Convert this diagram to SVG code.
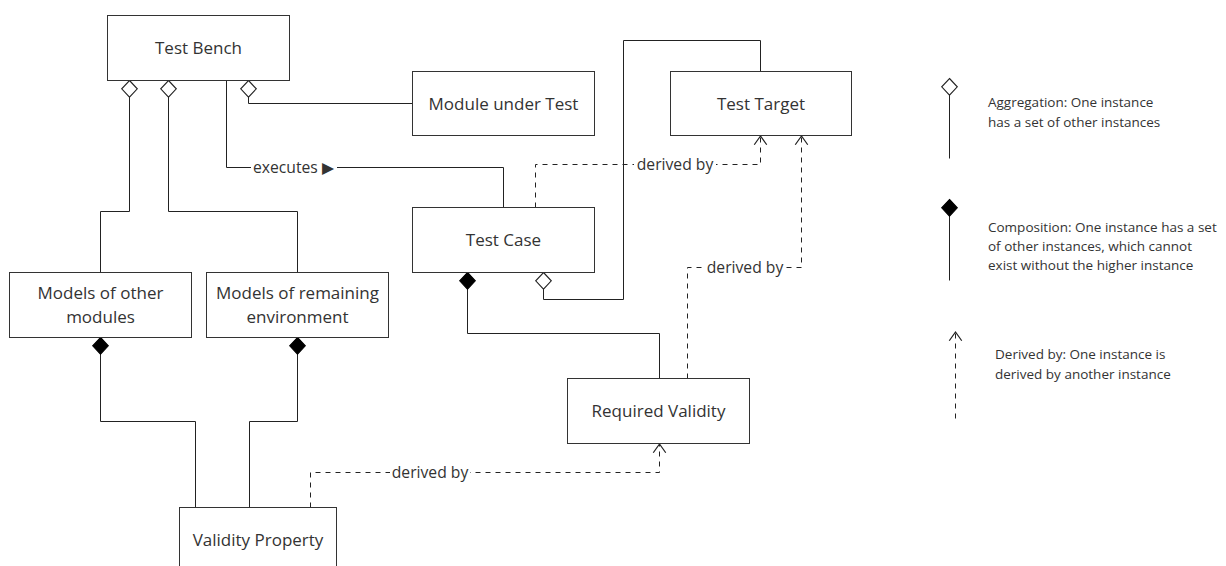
<svg xmlns="http://www.w3.org/2000/svg" width="1226" height="566" viewBox="0 0 1226 566">
  <style>
    .box { fill: #ffffff; stroke: #333333; stroke-width: 1; }
    .name { font-family: "Open Sans", "Noto Sans", "DejaVu Sans", sans-serif; font-size: 17px; fill: #333333; text-anchor: middle; }
    .wire { fill: none; stroke: #222222; stroke-width: 1; }
    .dash { fill: none; stroke: #222222; stroke-width: 1; stroke-dasharray: 5 5; }
    .lbl { font-family: "Open Sans", "Noto Sans", "DejaVu Sans", sans-serif; font-size: 15.7px; fill: #333333; }
    .lblbg { fill: #ffffff; stroke: none; }
    .note { font-family: "Open Sans", "Noto Sans", "DejaVu Sans", sans-serif; font-size: 13.5px; fill: #333333; }
    .agg { marker-start: url(#openDiamond); }
    .comp { marker-start: url(#filledDiamond); }
    .derive { marker-end: url(#openArrow); }
  </style>
  <defs>
    <!-- aggregation: hollow diamond at the owning end -->
    <marker id="openDiamond" markerUnits="userSpaceOnUse" markerWidth="20" markerHeight="20" viewBox="-1 -9 18 18" refX="0" refY="0" orient="auto" overflow="visible">
      <path d="M0,0 L7.5,-7 L15,0 L7.5,7 Z" fill="#ffffff" stroke="#222222" stroke-width="1"/>
    </marker>
    <!-- composition: filled diamond at the owning end -->
    <marker id="filledDiamond" markerUnits="userSpaceOnUse" markerWidth="20" markerHeight="20" viewBox="-1 -9 18 18" refX="0" refY="0" orient="auto" overflow="visible">
      <path d="M0,0 L7.5,-7 L15,0 L7.5,7 Z" fill="#000000" stroke="#000000" stroke-width="1"/>
    </marker>
    <!-- derived-by: open chevron arrowhead -->
    <marker id="openArrow" markerUnits="userSpaceOnUse" markerWidth="20" markerHeight="20" viewBox="-10 -8 12 16" refX="0" refY="0" orient="auto" overflow="visible">
      <path d="M-7,-5 L0,0 L-7,5" fill="none" stroke="#222222" stroke-width="1" stroke-dasharray="none"/>
    </marker>
  </defs>

  <rect width="1226" height="566" fill="#ffffff"/>

  <!-- connectors -->
  <g id="connectors">
    <path class="wire agg" d="M129.5,80.5 V211.5 H100.5 V272.5"/>
    <path class="wire agg" d="M168.5,80.5 V211.5 H297.5 V272.5"/>
    <path class="wire agg" d="M248.5,80.5 V103.5 H412.5"/>
    <path class="wire" d="M226.5,80.5 V167.5 H503.5 V207.5"/>
    <path class="wire agg" d="M543.5,272.5 V299.5 H623.5 V40.5 H760.5 V71.5"/>
    <path class="wire comp" d="M467.5,272.5 V333.5 H659.5 V378.5"/>
    <path class="wire comp" d="M100.5,337.5 V421.5 H195.5 V507.5"/>
    <path class="wire comp" d="M297.5,337.5 V421.5 H249.5 V507.5"/>
    <path class="dash derive" d="M535.5,207.5 V164.5 H760.5 V136"/>
    <path class="dash derive" d="M687.5,378.5 V267.5 H801.5 V136"/>
    <path class="dash derive" d="M310.5,507.5 V472.5 H659.5 V444"/>

    <g id="label-executes">
      <rect class="lblbg" x="251" y="158" width="86" height="19"/>
      <text class="lbl" x="253" y="173">executes ▶</text>
    </g>
    <g id="label-derived-1">
      <rect class="lblbg" x="634" y="156" width="82" height="18"/>
      <text class="lbl" x="675" y="169.5" text-anchor="middle">derived by</text>
    </g>
    <g id="label-derived-2">
      <rect class="lblbg" x="705" y="259" width="80" height="18"/>
      <text class="lbl" x="745" y="272.5" text-anchor="middle">derived by</text>
    </g>
    <g id="label-derived-3">
      <rect class="lblbg" x="390" y="464" width="80" height="18"/>
      <text class="lbl" x="430" y="477.5" text-anchor="middle">derived by</text>
    </g>
  </g>

  <!-- nodes -->
  <g id="test-bench">
    <rect class="box" x="107.5" y="15.5" width="182" height="65"/>
    <text class="name" x="198.5" y="53.5">Test Bench</text>
  </g>
  <g id="module-under-test">
    <rect class="box" x="412.5" y="71.5" width="182" height="64"/>
    <text class="name" x="503.5" y="109.5">Module under Test</text>
  </g>
  <g id="test-target">
    <rect class="box" x="670.5" y="71.5" width="181" height="64"/>
    <text class="name" x="761" y="109.5">Test Target</text>
  </g>
  <g id="test-case">
    <rect class="box" x="412.5" y="207.5" width="182" height="65"/>
    <text class="name" x="503.5" y="245.5">Test Case</text>
  </g>
  <g id="models-other-modules">
    <rect class="box" x="9.5" y="272.5" width="182" height="65"/>
    <text class="name" x="100.5" y="298.5">Models of other</text>
    <text class="name" x="100.5" y="322.5">modules</text>
  </g>
  <g id="models-remaining-environment">
    <rect class="box" x="206.5" y="272.5" width="182" height="65"/>
    <text class="name" x="297.5" y="298.5">Models of remaining</text>
    <text class="name" x="297.5" y="322.5">environment</text>
  </g>
  <g id="required-validity">
    <rect class="box" x="567.5" y="378.5" width="182" height="65"/>
    <text class="name" x="658.5" y="416.5">Required Validity</text>
  </g>
  <g id="validity-property">
    <rect class="box" x="179.5" y="507.5" width="157" height="65"/>
    <text class="name" x="258" y="545.5">Validity Property</text>
  </g>

  <!-- legend -->
  <g id="legend">
    <path class="wire agg" d="M949.5,78.5 V158.5"/>
    <text class="note" x="988" y="106.5">Aggregation: One instance</text>
    <text class="note" x="988" y="126.5">has a set of other instances</text>

    <path class="wire comp" d="M949.5,199.5 V280.5"/>
    <text class="note" x="988" y="231.5">Composition: One instance has a set</text>
    <text class="note" x="988" y="250.5">of other instances, which cannot</text>
    <text class="note" x="988" y="269.5">exist without the higher instance</text>

    <path class="dash derive" d="M955.5,418.5 V332"/>
    <text class="note" x="995" y="359">Derived by: One instance is</text>
    <text class="note" x="995" y="378.5">derived by another instance</text>
  </g>
</svg>
